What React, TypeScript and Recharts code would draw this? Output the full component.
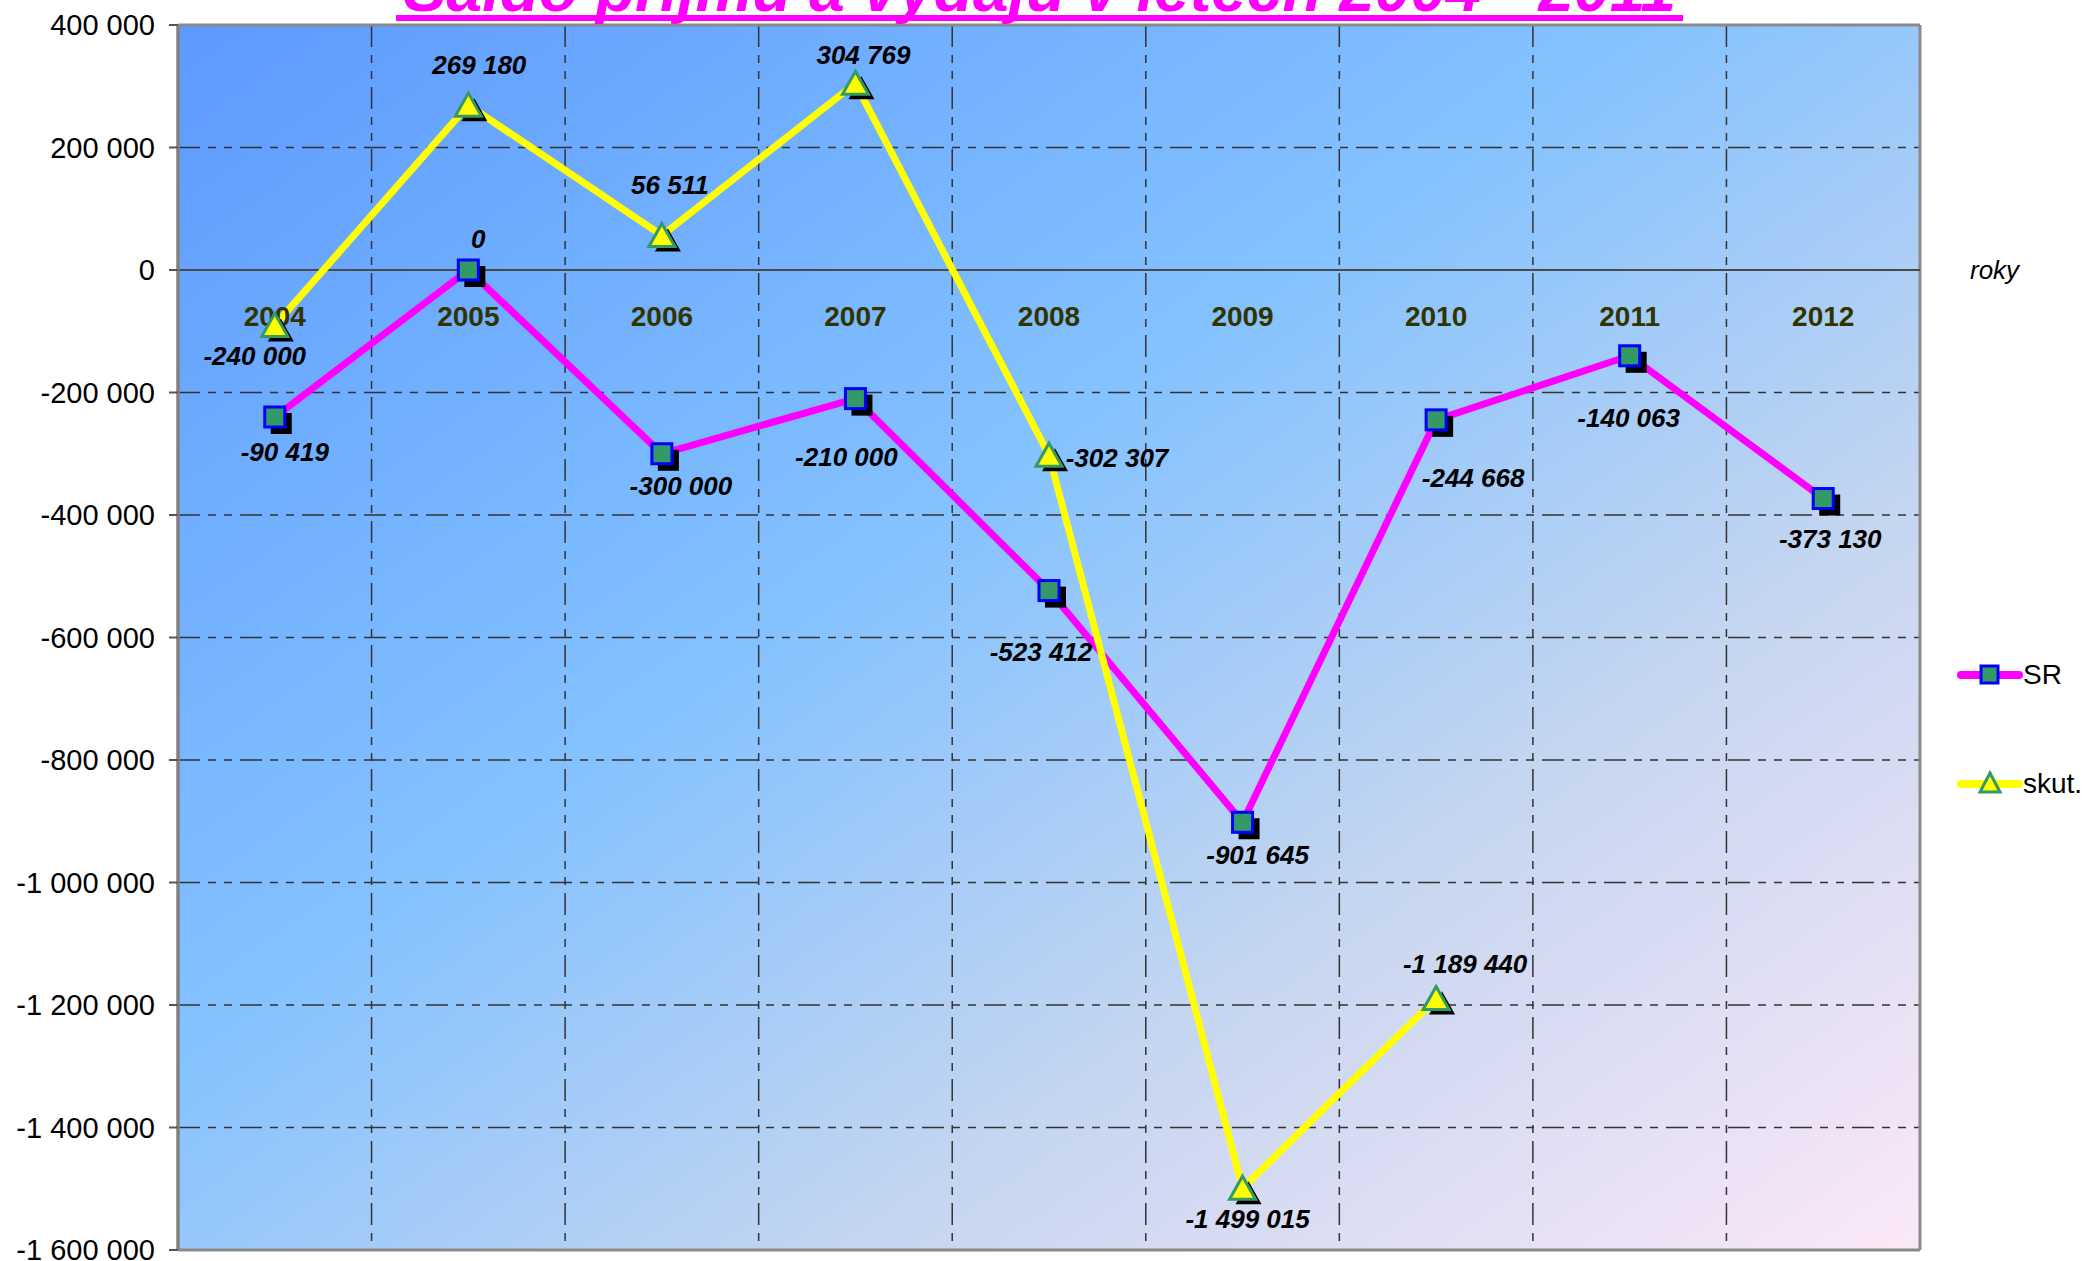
import {
  LineChart,
  Line,
  XAxis,
  YAxis,
  CartesianGrid,
  ReferenceLine,
  ReferenceDot,
  LabelList,
} from "recharts";

// data
const years = ["2004", "2005", "2006", "2007", "2008", "2009", "2010", "2011", "2012"];
const srValues = [-240000, 0, -300000, -210000, -523412, -901645, -244668, -140063, -373130];
const skutValues = [-90419, 269180, 56511, 304769, -302307, -1499015, -1189440, null, null];
// the printed labels (2004 labels are swapped in the original)
const srLabels = ["-90 419", "0", "-300 000", "-210 000", "-523 412", "-901 645", "-244 668", "-140 063", "-373 130"];
const skutLabels = ["-240 000", "269 180", "56 511", "304 769", "-302 307", "-1 499 015", "-1 189 440", null, null];
const yTicks = [400000, 200000, 0, -200000, -400000, -600000, -800000, -1000000, -1200000, -1400000, -1600000];

// label placement relative to the point (px)
const srLabelOffsets = [[10, 35], [10, -31], [19, 32], [-9, 58], [-8, 61], [15, 33], [37, 58], [-1, 62], [7, 40]];
const skutLabelOffsets = [[-20, 31], [11, -40], [8, -50], [8, -28], [68, 3], [5, 31], [29, -35]];

const W = 2082;
const H = 1261;
const margin = { top: 25, right: 162, bottom: 11, left: 0 };
const yAxisWidth = 178;
const plotWidth = W - yAxisWidth - margin.right;
const FONT = '"Liberation Sans", Arial, sans-serif';
const DASH = "22 8 8 8 8 8";

const rows = years.map((year, i) => ({
  year,
  sr: srValues[i],
  skut: skutValues[i],
  srLabel: srLabels[i],
  skutLabel: skutLabels[i],
}));

const fmt = (v: number) => {
  const s = String(Math.abs(v)).replace(/\B(?=(\d{3})+(?!\d))/g, " ");
  return v < 0 ? "-" + s : s;
};

const SquareDot = (props: any) => {
  const { cx, cy, index } = props;
  if (cx == null || cy == null) return <g key={`sq-${index}`} />;
  return (
    <g key={`sq-${index}`}>
      <rect x={cx - 10 + 6} y={cy - 10 + 6} width={21} height={21} fill="#000" />
      <rect x={cx - 10} y={cy - 10} width={20} height={20} fill="#339966" stroke="#0000ff" strokeWidth={3} />
    </g>
  );
};

const triPath = (cx: number, cy: number) =>
  `M${cx},${cy - 12} L${cx + 13},${cy + 11} L${cx - 13},${cy + 11} Z`;

const TriangleDot = (props: any) => {
  const { cx, cy, index } = props;
  if (cx == null || cy == null) return <g key={`tr-${index}`} />;
  return (
    <g key={`tr-${index}`}>
      <path d={triPath(cx + 6, cy + 5)} fill="#000" />
      <path d={triPath(cx, cy)} fill="#ffff00" stroke="#339966" strokeWidth={3} strokeLinejoin="miter" />
    </g>
  );
};

const makeLabel = (offsets: number[][]) => (props: any) => {
  const { value, index } = props;
  const vb = props.viewBox || {};
  const px = vb.x ?? props.x;
  const py = vb.y ?? props.y;
  if (value == null || px == null || py == null) return null;
  const [dx, dy] = offsets[index] || [0, 0];
  return (
    <text
      key={`lbl-${index}`}
      x={px + dx}
      y={py + dy}
      textAnchor="middle"
      dominantBaseline="central"
      fontFamily={FONT}
      fontSize={26}
      fontWeight="bold"
      fontStyle="italic"
      fill="#000"
    >
      {value}
    </text>
  );
};

const yearLabel = (year: string) => (props: any) => {
  const vb = props.viewBox || {};
  const x = (vb.x ?? 0) + (vb.width ?? 0) / 2;
  const y = (vb.y ?? 0) + (vb.height ?? 0) / 2;
  return (
    <text
      x={x}
      y={y + 46}
      textAnchor="middle"
      dominantBaseline="central"
      fontFamily={FONT}
      fontSize={28}
      fontWeight="bold"
      fill="#333300"
    >
      {year}
    </text>
  );
};

function LegendRow({ name, color, marker }: { name: string; color: string; marker: "square" | "triangle" }) {
  return (
    <div style={{ display: "flex", alignItems: "center", height: 40 }}>
      <svg width={66} height={40}>
        <line x1={4} y1={20} x2={62} y2={20} stroke={color} strokeWidth={8} strokeLinecap="round" />
        {marker === "square" ? (
          <rect x={24} y={11} width={17} height={17} fill="#339966" stroke="#0000ff" strokeWidth={3} />
        ) : (
          <path d="M33,9 L43,28 L23,28 Z" fill="#ffff00" stroke="#339966" strokeWidth={3} />
        )}
      </svg>
      <span style={{ fontFamily: FONT, fontSize: 28, color: "#000", whiteSpace: "nowrap" }}>{name}</span>
    </div>
  );
}

export default function App() {
  return (
    <div style={{ position: "absolute", left: 0, top: 0, width: W, height: H, background: "#fff", overflow: "hidden" }}>
      <LineChart width={W} height={H} data={rows} margin={margin}>
        <defs>
          <linearGradient id="bg" x1="0" y1="0" x2="1" y2="1">
            <stop offset="0" stopColor="#5c9aff" />
            <stop offset="0.42" stopColor="#84c2ff" />
            <stop offset="0.7" stopColor="#c6d6f0" />
            <stop offset="1" stopColor="#fce8f8" />
          </linearGradient>
        </defs>
        <CartesianGrid
          fill="url(#bg)"
          fillOpacity={1}
          stroke="#333"
          strokeWidth={1.5}
          strokeDasharray={DASH}
          verticalCoordinatesGenerator={({ offset }: any) =>
            years.slice(1).map((_, i) => offset.left + (offset.width * (i + 1)) / years.length)
          }
        />
        {/* plot area frame */}
        <CartesianGrid
          stroke="#8a8a8a"
          strokeWidth={3}
          verticalCoordinatesGenerator={({ offset }: any) => [offset.left, offset.left + offset.width]}
          horizontalCoordinatesGenerator={({ offset }: any) => [offset.top, offset.top + offset.height]}
        />
        <XAxis
          dataKey="year"
          hide
          padding={{ left: plotWidth / (2 * years.length), right: plotWidth / (2 * years.length) }}
        />
        <YAxis
          width={yAxisWidth}
          domain={[-1600000, 400000]}
          ticks={yTicks}
          interval={0}
          tickFormatter={fmt}
          tickSize={9}
          tickMargin={14}
          tick={{ fontFamily: FONT, fontSize: 29, fill: "#000" }}
          tickLine={{ stroke: "#555", strokeWidth: 2 }}
          axisLine={{ stroke: "#808080", strokeWidth: 3 }}
        />
        <ReferenceLine
          y={0}
          stroke="#4a4a4a"
          strokeWidth={2}
          label={{ value: "roky", position: "right", offset: 50, fontFamily: FONT, fontSize: 26, fontStyle: "italic", fill: "#000" }}
        />
        {years.map((y) => (
          <ReferenceDot key={y} x={y} y={0} r={1} fill="none" stroke="none" label={yearLabel(y)} />
        ))}
        <Line
          dataKey="sr"
          name="SR"
          stroke="#ff00ff"
          strokeWidth={7}
          dot={SquareDot}
          activeDot={false}
          isAnimationActive={false}
        >
          <LabelList dataKey="srLabel" content={makeLabel(srLabelOffsets)} />
        </Line>
        <Line
          dataKey="skut"
          name="skut."
          stroke="#ffff00"
          strokeWidth={7}
          dot={TriangleDot}
          activeDot={false}
          isAnimationActive={false}
        >
          <LabelList dataKey="skutLabel" content={makeLabel(skutLabelOffsets)} />
        </Line>
      </LineChart>

      <svg width={W} height={30} style={{ position: "absolute", left: 0, top: 0 }}>
        <text
          x={1040}
          y={11}
          textAnchor="middle"
          fontFamily={FONT}
          fontSize={64}
          fontWeight="bold"
          fontStyle="italic"
          fill="#ff00ff"
        >
          Saldo příjmů a výdajů v letech 2004 - 2011
        </text>
        <rect x={396} y={15} width={1287} height={6} fill="#ff00ff" />
      </svg>

      <div style={{ position: "absolute", left: 1957, top: 655 }}>
        <LegendRow name="SR" color="#ff00ff" marker="square" />
        <div style={{ height: 69 }} />
        <LegendRow name="skut." color="#ffff00" marker="triangle" />
      </div>
    </div>
  );
}
